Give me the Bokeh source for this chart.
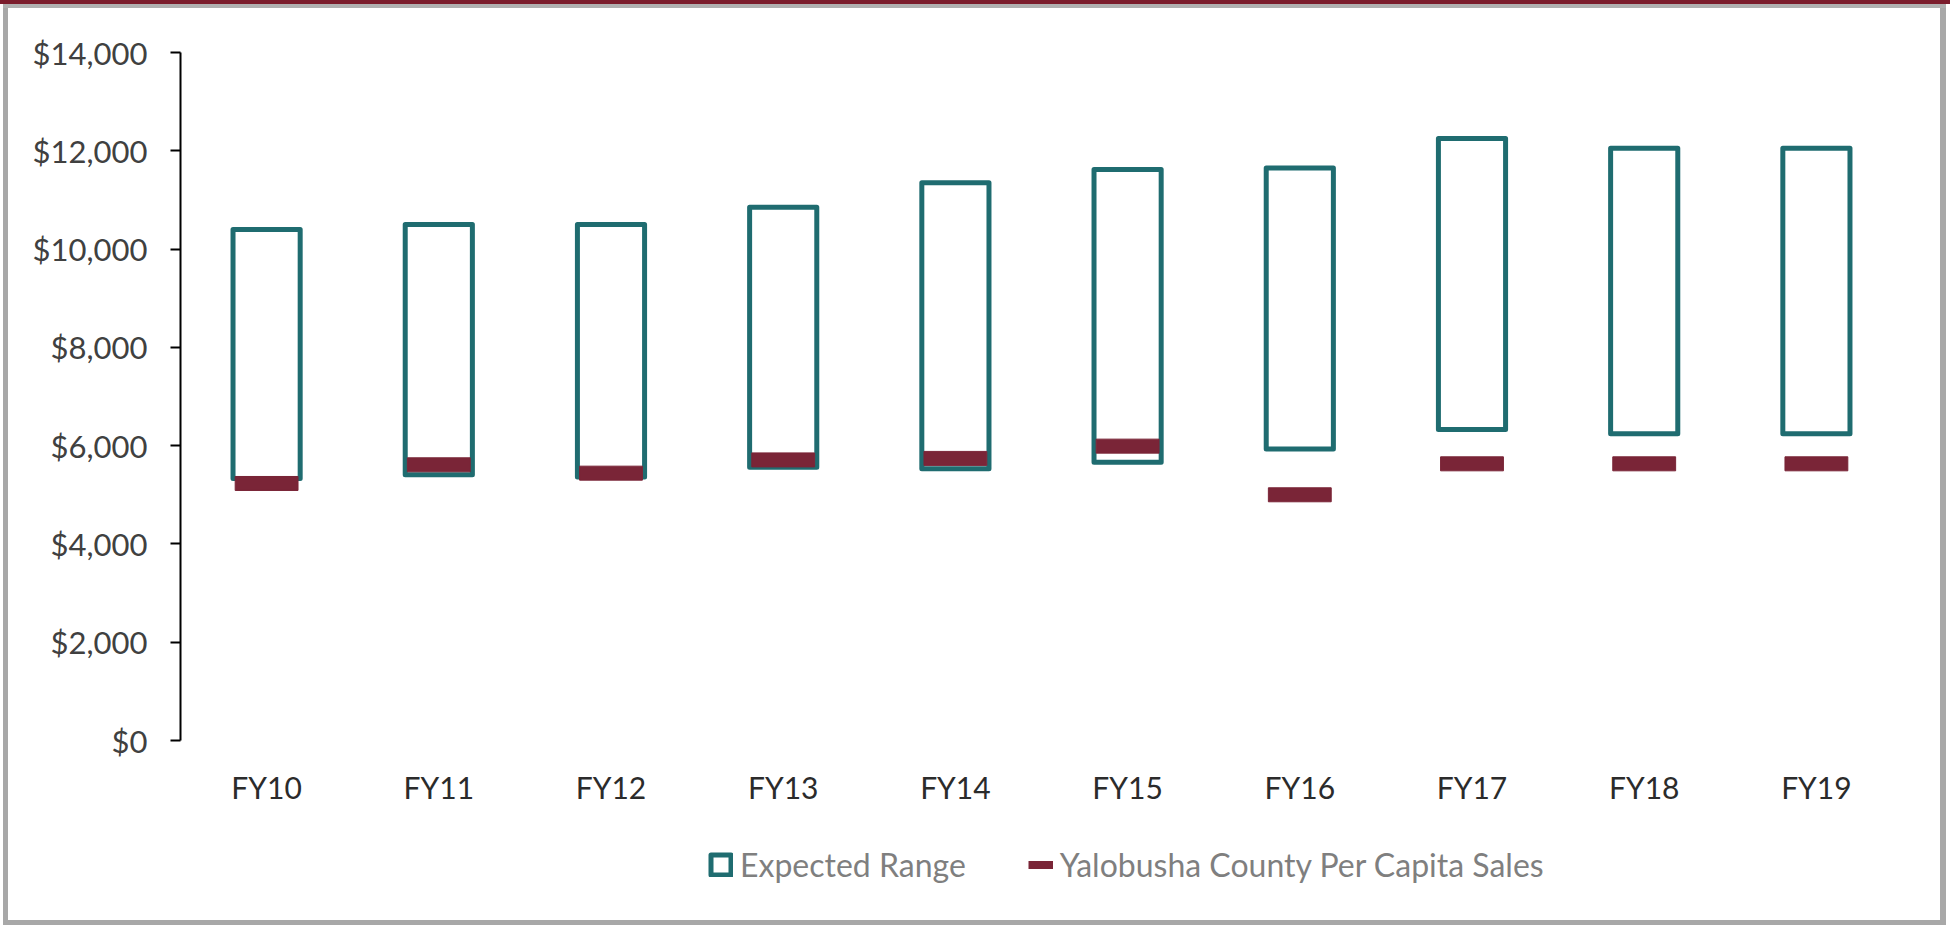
from bokeh.plotting import figure
from bokeh.models import (Range1d, FactorRange, FixedTicker, NumeralTickFormatter,
                          Legend, LegendItem, ColumnDataSource)
from bokeh.embed import file_html
from bokeh.resources import INLINE

# ---- data ----
fiscal_years = ["FY10", "FY11", "FY12", "FY13", "FY14", "FY15", "FY16", "FY17", "FY18", "FY19"]
range_low = [5330, 5410, 5360, 5560, 5530, 5660, 5930, 6330, 6240, 6240]
range_high = [10400, 10500, 10500, 10850, 11350, 11620, 11650, 12250, 12050, 12050]
county_sales = [5230, 5610, 5440, 5710, 5740, 5990, 5000, 5630, 5630, 5630]
y_ticks = [0, 2000, 4000, 6000, 8000, 10000, 12000, 14000]
y_max = 14000

TEAL = "#1f6c70"
MAROON = "#7a2537"
FONT = "Lato"

# layout (pixels)
W, H = 1950, 925
TOP, BOTTOM_BORDER = 52, 20          # frame top, space below frame
ZERO_PX = 740                        # pixel row of the value 0
frame_h = H - TOP - BOTTOM_BORDER
axis_h = ZERO_PX - TOP
y_start = -(frame_h - axis_h) * y_max / axis_h   # extra room below 0 for labels & legend

src = ColumnDataSource(dict(fy=fiscal_years, low=range_low, high=range_high, sales=county_sales))

frame_css = ("inset 0 4px 0 0 #7b1c2c, "
             "inset 3px 0 0 0 #ffffff, inset -4px 0 0 0 #ffffff, "
             "inset 0 8px 0 0 #b0b0b0, inset 8px 0 0 0 #a8a8a8, "
             "inset -10px 0 0 0 #a8a8a8, inset 0 -5px 0 0 #a8a8a8")

p = figure(width=W, height=H, output_backend="svg", toolbar_location=None,
           x_range=FactorRange(*fiscal_years, range_padding=0),
           y_range=Range1d(y_start, y_max),
           min_border_left=180, min_border_right=48, min_border_top=TOP,
           min_border_bottom=BOTTOM_BORDER,
           background_fill_alpha=0, border_fill_alpha=0, outline_line_color=None,
           styles={"box-shadow": frame_css})

boxes = p.vbar(x="fy", top="high", bottom="low", width=0.39, source=src,
               fill_color="white", fill_alpha=0, line_color=TEAL, line_width=5, line_join="round")
bars = p.rect(x="fy", y="sales", width=0.365, height=14, height_units="screen", source=src,
              fill_color=MAROON, line_color=MAROON, line_width=1)

# dummy renderer (far outside the visible range) that gives the dash-shaped legend icon
dash = p.line(x=[fiscal_years[0], fiscal_years[0]], y=[-1e7, -1e7], line_color=MAROON,
              line_width=8, line_cap="butt")

p.xgrid.visible = False
p.ygrid.visible = False

# y axis
yax = p.yaxis[0]
yax.bounds = (0, y_max)
yax.ticker = FixedTicker(ticks=y_ticks)
yax.formatter = NumeralTickFormatter(format="$0,0")
yax.axis_line_color = "black"
yax.axis_line_width = 2
yax.major_tick_line_color = "black"
yax.major_tick_line_width = 2
yax.major_tick_out = 10
yax.major_tick_in = 0
yax.minor_tick_line_color = None
yax.major_label_standoff = 23
yax.major_label_text_font = FONT
yax.major_label_text_font_size = "31px"
yax.major_label_text_color = "#404040"

# x axis, drawn at value 0
xax = p.xaxis[0]
xax.fixed_location = 0
xax.axis_line_color = None
xax.major_tick_line_color = None
xax.minor_tick_line_color = None
xax.major_tick_out = 0
xax.major_label_standoff = 28
xax.major_label_text_font = FONT
xax.major_label_text_font_size = "30px"
xax.major_label_text_color = "#2b2b2b"

legend = Legend(items=[LegendItem(label="Expected Range", renderers=[boxes]),
                       LegendItem(label="Yalobusha County Per Capita Sales", renderers=[dash])],
                orientation="horizontal", location=(528, 21),
                padding=0, margin=0, spacing=62, label_standoff=7,
                glyph_width=25, glyph_height=25,
                label_text_font=FONT, label_text_font_size="32px", label_text_color="#7f7f7f",
                border_line_color=None, background_fill_alpha=0)
p.add_layout(legend, "center")

open("out.html", "w").write(file_html(p, INLINE))
